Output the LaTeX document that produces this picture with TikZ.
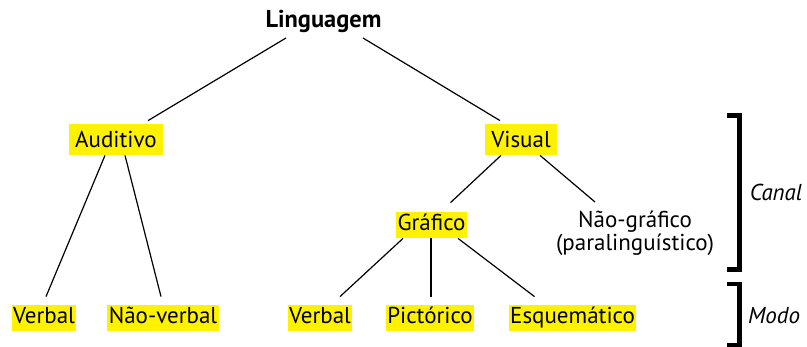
\documentclass[tikz,border=0pt]{standalone}
\usepackage{fontspec}
\setmainfont{PT Sans}
\usetikzlibrary{calc}
\newcommand\diagsize{\fontsize{11.5pt}{11.3pt}\selectfont}
\newcommand\titlesize{\fontsize{12.2pt}{12pt}\selectfont}
\begin{document}
\begin{tikzpicture}[x=0.5pt,y=-0.5pt,
  every node/.style={font=\diagsize, inner sep=0pt},
  hltop/.style={fill=yellow, inner xsep=3pt, inner ysep=0pt, text height=12pt, text depth=3.5pt},
  hl/.style={fill=yellow, inner xsep=0.7pt, inner ysep=0pt, text height=9pt, text depth=4pt},
  branch/.style={draw=black, line width=0.6pt},
  bracket/.style={draw=black, line width=2.25pt, line join=miter},
  side/.style={font=\diagsize\itshape, anchor=base}]
\useasboundingbox (0,0) rectangle (807,347);

\node[anchor=base, font=\titlesize\bfseries] (L) at (323.5,28) {Linguagem};
\node[hltop] (A) at (116,139.5) {Auditivo};
\node[hltop] (V) at (521,139.5) {Visual};
\node[hl] (G) at (431.5,225) {Gráfico};
\node[align=center, anchor=north] (N) at (635,211) {Não-gráfico\\(paralinguístico)};
\node[hl] (VL) at (44,318) {Verbal};
\node[hl] (NV) at (163,318) {Não-verbal};
\node[hl] (VR) at (320,318) {Verbal};
\node[hl] (P) at (430,318) {Pictórico};
\node[hl] (E) at (572.5,318) {Esquemático};

\draw[branch] ($(L.base)+(-37.5,10)$) -- ($(A.north)+(32,-3)$);
\draw[branch] ($(L.base)+(39.5,10)$) -- ($(V.north)+(-21,-3)$);
\draw[branch] ($(A.south)+(-11,0)$) -- ($(VL.north)+(2,-8)$);
\draw[branch] ($(A.south)+(9,0)$) -- ($(NV.north)+(-2,-8)$);
\draw[branch] ($(V.south)+(-20,0)$) -- ($(G.north)+(19,-9)$);
\draw[branch] ($(V.south)+(19,0)$) -- ($(N.north)+(-40,-9)$);
\draw[branch] ($(G.south)+(-28.5,0)$) -- ($(VR.north)+(20,-8)$);
\draw[branch] ($(G.south)+(-0.5,0)$) -- ($(P.north)+(1,-8)$);
\draw[branch] ($(G.south)+(26.5,0)$) -- ($(E.north)+(-38,-8)$);

\coordinate (c1) at (727,115.5);
\coordinate (c2) at (739.5,115.5);
\coordinate (c3) at (739.5,269.5);
\coordinate (c4) at (727,269.5);
\draw[bracket] (c1) -- (c2) -- (c3) -- (c4);
\coordinate (m1) at (727,284);
\coordinate (m2) at (739.5,284);
\coordinate (m3) at (739.5,345);
\coordinate (m4) at (727,345);
\draw[bracket] (m1) -- (m2) -- (m3) -- (m4);

\node[side] (canal) at (776,200.7) {Canal};
\node[side] (modo) at (774,323) {Modo};
\end{tikzpicture}
\end{document}
